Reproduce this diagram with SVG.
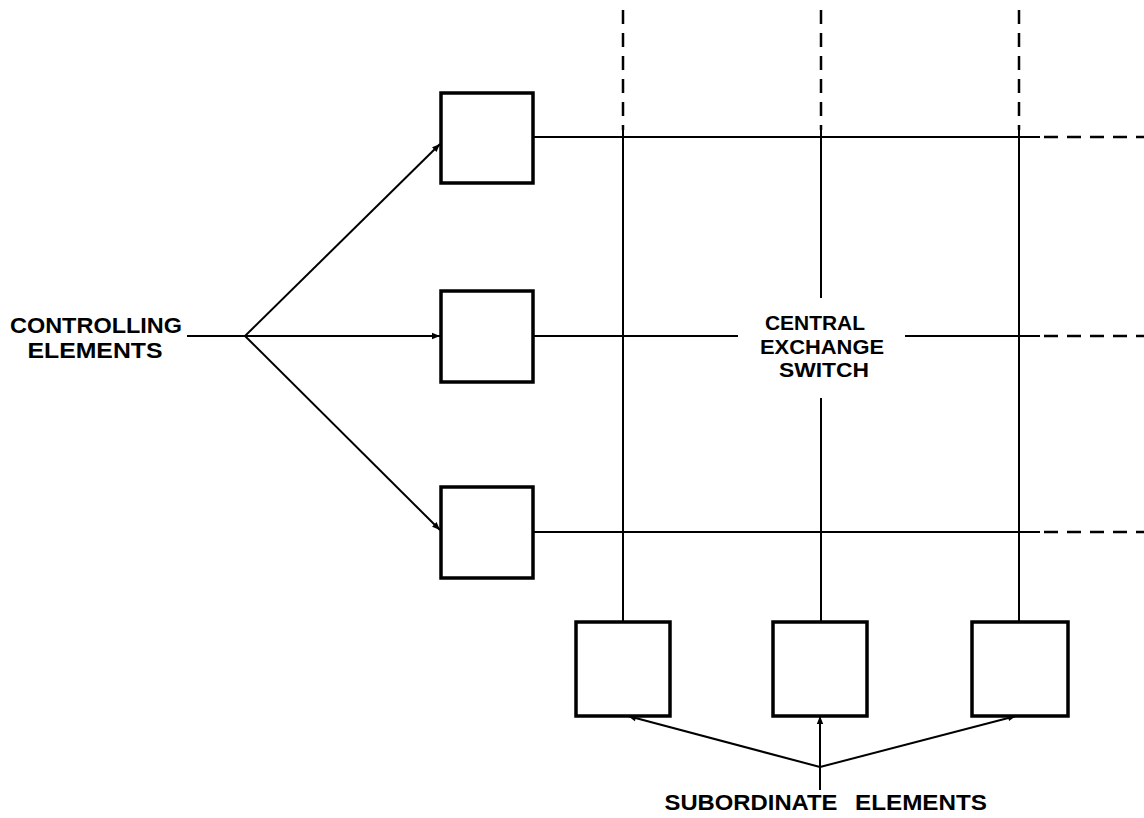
<svg xmlns="http://www.w3.org/2000/svg" width="1144" height="818" viewBox="0 0 1144 818">
<style>
.box{fill:#fff;stroke:#000;stroke-width:3.5}
.ln{stroke:#000;stroke-width:2;fill:none}
.dash{stroke:#000;stroke-width:2.5;fill:none;stroke-dasharray:14,9}
.t{font-family:"Liberation Sans",Arial,sans-serif;font-size:22px;font-weight:bold;fill:#000;text-anchor:middle}
.c{font-size:20px}
</style>
<defs>
<marker id="ah" viewBox="0 0 10 10" refX="10" refY="5" markerWidth="9" markerHeight="8" orient="auto" markerUnits="userSpaceOnUse">
<path d="M0,1 L10,5 L0,9 z" fill="#000"/>
</marker>
</defs>
<g id="connectors">
<line class="ln" x1="187" y1="336" x2="245" y2="336"/>
<line class="ln" x1="245" y1="336" x2="440" y2="144" marker-end="url(#ah)"/>
<line class="ln" x1="245" y1="336" x2="440" y2="336" marker-end="url(#ah)"/>
<line class="ln" x1="245" y1="336" x2="440" y2="530" marker-end="url(#ah)"/>
<line class="ln" x1="534" y1="137" x2="1040" y2="137"/>
<line class="dash" x1="1044" y1="137" x2="1144" y2="137"/>
<line class="ln" x1="534" y1="336" x2="738" y2="336"/>
<line class="ln" x1="905" y1="336" x2="1040" y2="336"/>
<line class="dash" x1="1044" y1="336" x2="1144" y2="336"/>
<line class="ln" x1="534" y1="532" x2="1040" y2="532"/>
<line class="dash" x1="1044" y1="532" x2="1144" y2="532"/>
<line class="dash" x1="623" y1="10" x2="623" y2="130"/>
<line class="ln" x1="623" y1="130" x2="623" y2="622"/>
<line class="dash" x1="821" y1="10" x2="821" y2="130"/>
<line class="ln" x1="821" y1="130" x2="821" y2="298"/>
<line class="ln" x1="821" y1="398" x2="821" y2="622"/>
<line class="dash" x1="1019" y1="10" x2="1019" y2="130"/>
<line class="ln" x1="1019" y1="130" x2="1019" y2="622"/>
<line class="ln" x1="820" y1="790" x2="820" y2="716" marker-end="url(#ah)"/>
<line class="ln" x1="820" y1="767" x2="628" y2="716" marker-end="url(#ah)"/>
<line class="ln" x1="820" y1="767" x2="1016" y2="716" marker-end="url(#ah)"/>
</g>
<g id="ctrl1"><rect class="box" x="441" y="93" width="92" height="90"/></g>
<g id="ctrl2"><rect class="box" x="441" y="291" width="92" height="91"/></g>
<g id="ctrl3"><rect class="box" x="441" y="487" width="92" height="91"/></g>
<g id="sub1"><rect class="box" x="576" y="622" width="94" height="94"/></g>
<g id="sub2"><rect class="box" x="773" y="622" width="94" height="94"/></g>
<g id="sub3"><rect class="box" x="972" y="622" width="96" height="94"/></g>
<g id="label-controlling">
<text class="t" x="96" y="333" textLength="172" lengthAdjust="spacingAndGlyphs">CONTROLLING</text>
<text class="t" x="95" y="358" textLength="135" lengthAdjust="spacingAndGlyphs">ELEMENTS</text>
</g>
<g id="label-central">
<text class="t c" x="815" y="330" textLength="100" lengthAdjust="spacingAndGlyphs">CENTRAL</text>
<text class="t c" x="822" y="354" textLength="124" lengthAdjust="spacingAndGlyphs">EXCHANGE</text>
<text class="t c" x="824" y="377" textLength="90" lengthAdjust="spacingAndGlyphs">SWITCH</text>
</g>
<g id="label-subordinate">
<text class="t" y="810"><tspan x="751" textLength="173" lengthAdjust="spacingAndGlyphs">SUBORDINATE</tspan><tspan x="921" textLength="132" lengthAdjust="spacingAndGlyphs">ELEMENTS</tspan></text>
</g>
</svg>
